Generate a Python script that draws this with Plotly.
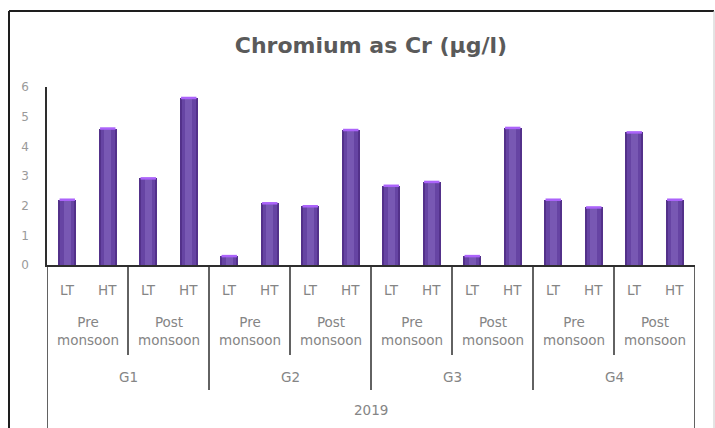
import plotly.graph_objects as go

# ---------------- data ----------------
year_label = "2019"
groups = ["G1", "G2", "G3", "G4"]
seasons = ["Pre<br>monsoon", "Post<br>monsoon"]
tides = ["LT", "HT"]
values = [2.2, 4.6, 2.92, 5.63,
          0.3, 2.08, 1.98, 4.55,
          2.67, 2.8, 0.3, 4.62,
          2.2, 1.94, 4.47, 2.2]
y_ticks = [0, 1, 2, 3, 4, 5, 6]
title_text = "Chromium as Cr (µg/l)"

# ---------------- layout helpers ----------------
W, H = 715, 428
L, R, T, B = 47, 20, 87, 163
PW, PH = W - L - R, H - T - B
Y0 = H - B  # pixel row of the plot bottom


def px_x(X):
    return (X - L) / PW


def px_y(Y):
    return (Y0 - Y) / PH


n = len(values)
xs = list(range(n))

fig = go.Figure()
# cylinder-like bars: dark edge, mid, light centre
for w, c in [(0.44, "#53318a"), (0.34, "#6644a3"), (0.18, "#7858b3")]:
    fig.add_trace(go.Bar(x=xs, y=values, width=w, marker=dict(color=c, line=dict(width=0)),
                         hoverinfo="skip", showlegend=False))
# top cap highlight
fig.add_trace(go.Scatter(x=xs, y=values, mode="markers", hoverinfo="skip", showlegend=False,
                         marker=dict(symbol="line-ew-open", size=11,
                                     line=dict(color="#a792cf", width=2.5))))

annotations = []
shapes = []
lab_font = dict(family="DejaVu Sans", size=13.5, color="#858585")

# tide labels
for i in range(n):
    annotations.append(dict(x=i, y=px_y(290), xref="x", yref="paper", text=tides[i % 2],
                            showarrow=False, font=lab_font, xanchor="center", yanchor="middle"))
# season labels
for s in range(n // 2):
    annotations.append(dict(x=2 * s + 0.5, y=px_y(331), xref="x", yref="paper",
                            text=seasons[s % 2], showarrow=False, font=lab_font,
                            xanchor="center", yanchor="middle"))
# group labels
for g in range(len(groups)):
    annotations.append(dict(x=4 * g + 1.5, y=px_y(377), xref="x", yref="paper",
                            text=groups[g], showarrow=False, font=lab_font,
                            xanchor="center", yanchor="middle"))
# year label
annotations.append(dict(x=(n - 1) / 2, y=px_y(410), xref="x", yref="paper", text=year_label,
                        showarrow=False, font=lab_font, xanchor="center", yanchor="middle"))

line_col = "#2e2e2e"
# season separators
for s in range(1, n // 2):
    if s % 2 == 1:
        shapes.append(dict(type="line", xref="x", yref="paper", x0=2 * s - 0.5, x1=2 * s - 0.5,
                           y0=0, y1=px_y(355), line=dict(color=line_col, width=1.5)))
    else:
        shapes.append(dict(type="line", xref="x", yref="paper", x0=2 * s - 0.5, x1=2 * s - 0.5,
                           y0=0, y1=px_y(390), line=dict(color=line_col, width=1.5)))
# outer edges of category axis
for xe in [-0.5, n - 0.5]:
    shapes.append(dict(type="line", xref="x", yref="paper", x0=xe, x1=xe,
                       y0=0, y1=px_y(440), line=dict(color=line_col, width=1.5)))

# chart border
shapes.append(dict(type="line", xref="paper", yref="paper", x0=px_x(9), x1=px_x(714),
                   y0=px_y(11), y1=px_y(11), line=dict(color="#1e1e1e", width=2)))
shapes.append(dict(type="line", xref="paper", yref="paper", x0=px_x(9), x1=px_x(9),
                   y0=px_y(11), y1=px_y(440), line=dict(color="#1e1e1e", width=2)))
shapes.append(dict(type="line", xref="paper", yref="paper", x0=px_x(714), x1=px_x(714),
                   y0=px_y(11), y1=px_y(440), line=dict(color="#c8c8c8", width=1)))

fig.update_layout(
    width=W, height=H,
    margin=dict(l=L, r=R, t=T, b=B, pad=0),
    paper_bgcolor="white", plot_bgcolor="white",
    barmode="overlay", bargap=0,
    title=dict(text=title_text, x=0.5, xref="paper", xanchor="center",
               y=1 - 45 / H, yref="container", yanchor="middle",
               font=dict(family="DejaVu Sans", size=22, color="#5a5a5a", weight="bold")),
    xaxis=dict(range=[-0.5, n - 0.5], showticklabels=False, showgrid=False, zeroline=False,
               showline=True, linecolor=line_col, linewidth=1.5, ticks="", fixedrange=True),
    yaxis=dict(range=[0, 6], tickvals=y_ticks, showgrid=False, zeroline=False,
               showline=True, linecolor=line_col, linewidth=1.5, ticks="",
               ticklabelstandoff=14,
               tickfont=dict(family="DejaVu Sans", size=12, color="#9a9a9a")),
    annotations=annotations, shapes=shapes,
)

fig.write_html("out.html")
